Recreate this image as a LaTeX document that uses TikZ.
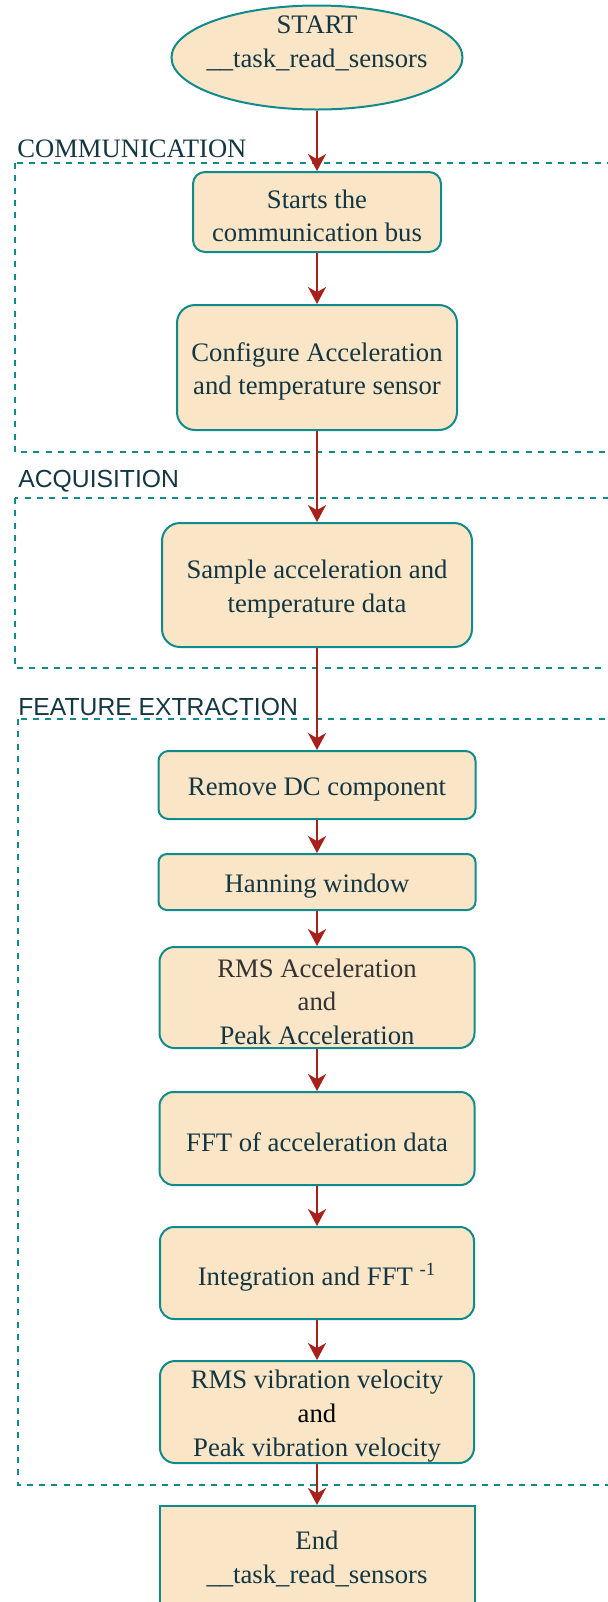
\documentclass[tikz,border=0pt]{standalone}
\usepackage{fontspec}
\setmainfont{Liberation Serif}
\newfontfamily\labelsans{Liberation Sans}
\usetikzlibrary{shapes.geometric,arrows.meta}
\definecolor{boxfill}{HTML}{FAE5C7}
\definecolor{boxline}{HTML}{0F8B8D}
\definecolor{txtcol}{HTML}{143642}
\definecolor{arrowcol}{HTML}{A8201A}
\definecolor{graytxt}{HTML}{333333}
\begin{document}
\begin{tikzpicture}[x=0.5pt,y=-0.5pt,
  box/.style={draw=boxline, fill=boxfill, line width=1pt, inner sep=0pt},
  boxtext/.style={text=txtcol, align=center, inner sep=0pt, yshift=-2pt,
    font=\fontsize{13.35pt}{16.8pt}\selectfont},
  flow/.style={draw=arrowcol, line width=1pt, -{Stealth[length=8.5pt,width=9pt,inset=2.6pt]}},
  group/.style={draw=boxline, line width=1pt, dash pattern=on 3pt off 3.15pt},
  serlabel/.style={anchor=base west, inner sep=0pt, text=txtcol, font=\fontsize{13.3pt}{16pt}\selectfont},
  sanslabel/.style={anchor=base west, inner sep=0pt, text=txtcol, font=\labelsans\fontsize{12.35pt}{15pt}\selectfont}
]
\clip (0,0) rectangle (608,1602);

% groups
\draw[group] (15,163) rectangle (640,452);
\draw[group] (15,498) rectangle (640,668);
\draw[group] (18,719) rectangle (640,1485);
\node[serlabel] (lcomm) at (17,157) {COMMUNICATION};
\node[sanslabel] (lacq) at (18,487) {ACQUISITION};
\node[sanslabel] (lfeat) at (18,715) {FEATURE EXTRACTION};

% start
\node[ellipse, box, minimum width=145.5pt, minimum height=52pt,
      label={[boxtext, yshift=9pt, font=\fontsize{13.35pt}{17pt}\selectfont]center:{START\\\_\_task\_read\_sensors}}]
      (start) at (317,57.5) {};

% boxes
\node[box, rounded corners=6pt, minimum width=124pt, minimum height=40pt,
  label={[boxtext]center:{Starts the\\communication bus}}] (b1) at (317,212) {};
\node[box, rounded corners=9pt, minimum width=140pt, minimum height=62.5pt,
  label={[boxtext]center:{Configure Acceleration\\and temperature sensor}}] (b2) at (317,367.5) {};
\node[box, rounded corners=9pt, minimum width=155pt, minimum height=62pt,
  label={[boxtext]center:{Sample acceleration and\\temperature data}}] (b3) at (317,585) {};
\node[box, rounded corners=5pt, minimum width=158.5pt, minimum height=34pt,
  label={[boxtext]center:{Remove DC component}}] (b4) at (317,785) {};
\node[box, rounded corners=4.2pt, minimum width=158.5pt, minimum height=28pt,
  label={[boxtext]center:{Hanning window}}] (b5) at (317,882) {};
\node[box, rounded corners=7.5pt, minimum width=157.5pt, minimum height=50.5pt,
  label={[boxtext]center:{\textcolor{graytxt}{RMS Acceleration}\\\textcolor{graytxt}{and}\\Peak Acceleration}}] (b6) at (317,997.5) {};
\node[box, rounded corners=7pt, minimum width=157.5pt, minimum height=46.5pt,
  label={[boxtext]center:{FFT of acceleration data}}] (b7) at (317,1138.5) {};
\node[box, rounded corners=7pt, minimum width=157pt, minimum height=46pt,
  label={[boxtext]center:{Integration and FFT \textsuperscript{-1}}}] (b8) at (317,1273) {};
\node[box, rounded corners=7.5pt, minimum width=157pt, minimum height=51pt,
  label={[boxtext]center:{RMS vibration velocity\\\textcolor{black}{and}\\Peak vibration velocity}}] (b9) at (317,1412) {};
\node[box, minimum width=157.5pt, minimum height=49pt,
  label={[boxtext]center:{End\\\_\_task\_read\_sensors}}] (b10) at (317,1555) {};

% connectors
\draw[flow] (start.south) -- (b1.north);
\draw[flow] (b1.south) -- (b2.north);
\draw[flow] (b2.south) -- (b3.north);
\draw[flow] (b3.south) -- (b4.north);
\draw[flow] (b4.south) -- (b5.north);
\draw[flow] (b5.south) -- (b6.north);
\draw[flow] (b6.south) -- (b7.north);
\draw[flow] (b7.south) -- (b8.north);
\draw[flow] (b8.south) -- (b9.north);
\draw[flow] (b9.south) -- (b10.north);
\end{tikzpicture}
\end{document}
